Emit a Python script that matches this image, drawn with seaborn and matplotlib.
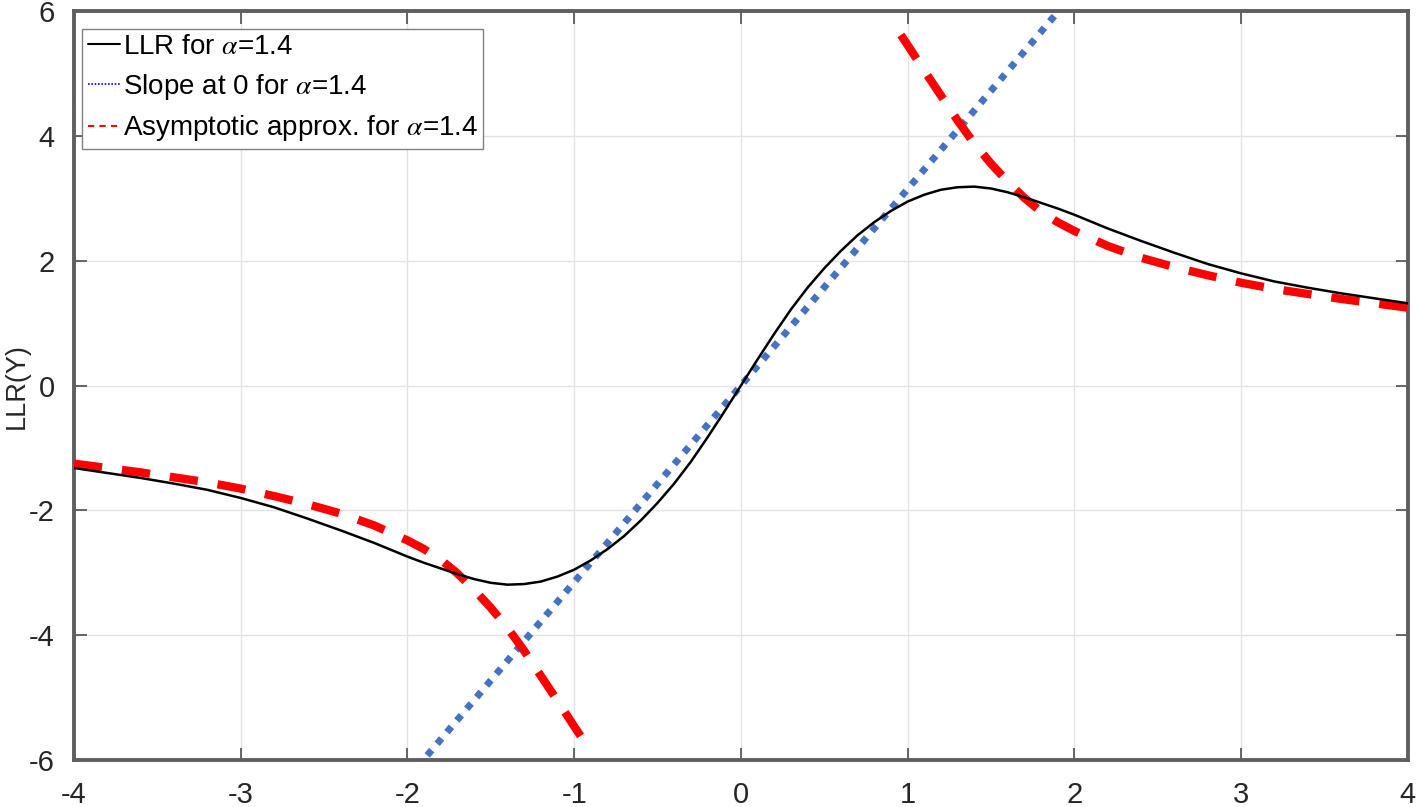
import numpy as np
import pandas as pd
import matplotlib
matplotlib.use("Agg")
import matplotlib.pyplot as plt
from matplotlib.lines import Line2D
from matplotlib import font_manager
import seaborn as sns

# ---- data ----
llr_x = [-4.0, -3.8, -3.6, -3.4, -3.2, -3.0, -2.8, -2.6, -2.4, -2.2, -2.0,
         -1.9, -1.8, -1.7, -1.6, -1.5, -1.4, -1.3, -1.2, -1.1, -1.0,
         -0.9, -0.8, -0.7, -0.6, -0.5, -0.4, -0.3, -0.2, -0.1, 0.0,
         0.1, 0.2, 0.3, 0.4, 0.5, 0.6, 0.7, 0.8, 0.9, 1.0,
         1.1, 1.2, 1.3, 1.4, 1.5, 1.6, 1.7, 1.8, 1.9, 2.0,
         2.2, 2.4, 2.6, 2.8, 3.0, 3.2, 3.4, 3.6, 3.8, 4.0]
llr_y = [-1.32, -1.40, -1.48, -1.57, -1.67, -1.80, -1.95, -2.13, -2.32, -2.52, -2.74,
         -2.84, -2.93, -3.02, -3.10, -3.16, -3.19, -3.18, -3.14, -3.06, -2.95,
         -2.80, -2.62, -2.41, -2.16, -1.88, -1.57, -1.22, -0.83, -0.42, 0.0,
         0.42, 0.83, 1.22, 1.57, 1.88, 2.16, 2.41, 2.62, 2.80, 2.95,
         3.06, 3.14, 3.18, 3.19, 3.16, 3.10, 3.02, 2.93, 2.84, 2.74,
         2.52, 2.32, 2.13, 1.95, 1.80, 1.67, 1.57, 1.48, 1.40, 1.32]

slope_x = [-2.0, 2.0]
slope_y = [-6.3, 6.3]

asym_neg_x = [-4.0, -3.8, -3.6, -3.4, -3.2, -3.0, -2.8, -2.6, -2.4, -2.2, -2.0,
              -1.9, -1.8, -1.7, -1.6, -1.5, -1.4, -1.3, -1.2, -1.1, -1.0, -0.96]
asym_neg_y = [-1.25, -1.32, -1.39, -1.47, -1.55, -1.65, -1.77, -1.90, -2.05, -2.24, -2.48,
              -2.62, -2.79, -3.01, -3.27, -3.56, -3.88, -4.25, -4.65, -5.05, -5.46, -5.62]
asym_pos_x = [0.96, 1.0, 1.1, 1.2, 1.3, 1.4, 1.5, 1.6, 1.7, 1.8, 1.9,
              2.0, 2.2, 2.4, 2.6, 2.8, 3.0, 3.2, 3.4, 3.6, 3.8, 4.0]
asym_pos_y = [5.62, 5.46, 5.05, 4.65, 4.25, 3.88, 3.56, 3.27, 3.01, 2.79, 2.62,
              2.48, 2.24, 2.05, 1.90, 1.77, 1.65, 1.55, 1.47, 1.39, 1.32, 1.25]

x_ticks = [-4, -3, -2, -1, 0, 1, 2, 3, 4]
y_ticks = [-6, -4, -2, 0, 2, 4, 6]
legend_labels = [r"LLR for $\alpha$=1.4",
                 r"Slope at 0 for $\alpha$=1.4",
                 r"Asymptotic approx. for $\alpha$=1.4"]

# ---- styling ----
sns.set_theme(style="whitegrid")
names = {f.name for f in font_manager.fontManager.ttflist}
main_font = "Liberation Sans Narrow" if "Liberation Sans Narrow" in names else "Liberation Sans"
plt.rcParams["font.family"] = [main_font, "DejaVu Sans"]
plt.rcParams["mathtext.fontset"] = "stix"

fig = plt.figure(figsize=(14.16, 8.07), dpi=100)
ax = fig.add_axes([74 / 1416, 47 / 807, 1333.7 / 1416, 748.7 / 807])
ax.set_facecolor("white")

df_llr = pd.DataFrame({"x": llr_x, "y": llr_y})
df_slope = pd.DataFrame({"x": slope_x, "y": slope_y})
df_an = pd.DataFrame({"x": asym_neg_x, "y": asym_neg_y})
df_ap = pd.DataFrame({"x": asym_pos_x, "y": asym_pos_y})

sns.lineplot(data=df_slope, x="x", y="y", ax=ax, color="#4472C4", linewidth=5.0,
             linestyle=(0, (1.0, 1.2)), dash_capstyle="butt", zorder=3)
sns.lineplot(data=df_an, x="x", y="y", ax=ax, color="#ff0000", linewidth=6.0,
             linestyle=(0, (3.4, 2.4)), dash_capstyle="butt", zorder=4)
sns.lineplot(data=df_ap, x="x", y="y", ax=ax, color="#ff0000", linewidth=6.0,
             linestyle=(0, (3.4, 2.4)), dash_capstyle="butt", zorder=4)
sns.lineplot(data=df_llr, x="x", y="y", ax=ax, color="black", linewidth=1.8, zorder=5)

ax.set_xlim(-4, 4)
ax.set_ylim(-6, 6)
ax.set_xticks(x_ticks)
ax.set_yticks(y_ticks)
ax.set_xticklabels([str(t) for t in x_ticks])
ax.set_yticklabels([str(t) for t in y_ticks])
ax.set_xlabel("")
ax.set_ylabel("LLR(Y)", fontsize=19.5, color="#262626")
ax.yaxis.set_label_coords(-0.0335, 0.5)

ax.grid(True, color="#e3e3e3", linewidth=1.0)
for s in ax.spines.values():
    s.set_visible(True)
    s.set_color("#5f5f5f")
    s.set_linewidth(2.8)
ax.tick_params(axis="both", which="both", direction="in", length=9, width=1.2,
               color="#4d4d4d", labelcolor="#262626", labelsize=21,
               top=True, right=True, left=True, bottom=True)
ax.tick_params(axis="x", pad=15)
ax.tick_params(axis="y", pad=14)

handles = [Line2D([], [], color="black", linewidth=1.5, linestyle="-"),
           Line2D([], [], color="#0000ff", linewidth=1.2, linestyle=(0, (1, 1))),
           Line2D([], [], color="#ff0000", linewidth=1.5, linestyle=(0, (3, 2.5)))]
leg = ax.legend(handles, legend_labels, loc="upper left",
                bbox_to_anchor=(0.006, 0.977), borderaxespad=0,
                fontsize=20, handlelength=1.15, handletextpad=0.12,
                borderpad=0.2, labelspacing=0.42, fancybox=False,
                framealpha=1, edgecolor="#808080")
leg.get_frame().set_linewidth(1.0)
for t in leg.get_texts():
    t.set_color("black")

fig.savefig("out.png", dpi=100)
